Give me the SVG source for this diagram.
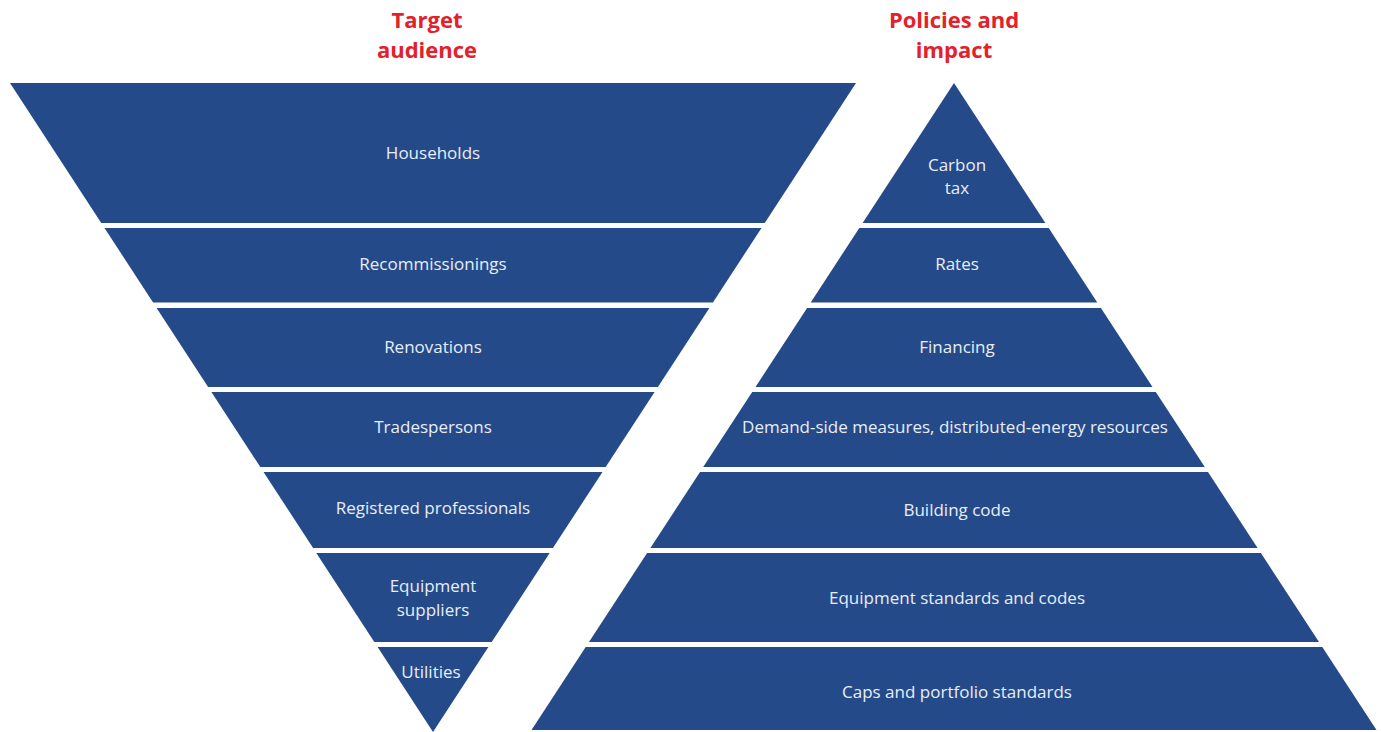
<svg xmlns="http://www.w3.org/2000/svg" width="1381" height="732" viewBox="0 0 1381 732">
<style>
.seg{fill:#244a89;}
.lbl{font-family:"Open Sans","Liberation Sans",sans-serif;font-size:17px;fill:#e8eef7;text-anchor:middle;}
.ttl{font-family:"Open Sans","Liberation Sans",sans-serif;font-size:22px;font-weight:bold;fill:#e3212b;text-anchor:middle;}
</style>
<rect width="1381" height="732" fill="#ffffff"/>
<g id="title-left"><text class="ttl" x="427" y="28">Target</text><text class="ttl" x="427" y="58">audience</text></g>
<g id="title-right"><text class="ttl" x="954" y="28">Policies and</text><text class="ttl" x="954" y="58">impact</text></g>
<g id="households"><polygon class="seg" points="10,83 856,83 764.75,223 101.25,223"/><text class="lbl" x="433" y="158.5">Households</text></g>
<g id="recommissionings"><polygon class="seg" points="104.5,228 761.5,228 712.9,302.5 153.1,302.5"/><text class="lbl" x="433" y="270">Recommissionings</text></g>
<g id="renovations"><polygon class="seg" points="156.6,308 709.4,308 657.9,387 208.1,387"/><text class="lbl" x="433" y="353">Renovations</text></g>
<g id="tradespersons"><polygon class="seg" points="211.4,392 654.6,392 605.7,467 260.3,467"/><text class="lbl" x="433" y="433">Tradespersons</text></g>
<g id="registered-professionals"><polygon class="seg" points="263.5,472 602.5,472 552.9,548 313.1,548"/><text class="lbl" x="433" y="514">Registered professionals</text></g>
<g id="equipment-suppliers"><polygon class="seg" points="316.3,553 549.7,553 491.7,642 374.3,642"/><text class="lbl" x="433" y="591.5">Equipment</text><text class="lbl" x="433" y="615.5">suppliers</text></g>
<g id="utilities"><polygon class="seg" points="377.6,647 488.4,647 433,732"/><text class="lbl" x="431" y="678">Utilities</text></g>
<g id="carbon-tax"><polygon class="seg" points="954,83 1045.4,223 862.6,223"/><text class="lbl" x="957" y="170.5">Carbon</text><text class="lbl" x="957" y="194">tax</text></g>
<g id="rates"><polygon class="seg" points="859.3,228 1048.7,228 1097.3,302.5 810.7,302.5"/><text class="lbl" x="957" y="270">Rates</text></g>
<g id="financing"><polygon class="seg" points="807.1,308 1100.9,308 1152.5,387 755.5,387"/><text class="lbl" x="957" y="353">Financing</text></g>
<g id="demand-side"><polygon class="seg" points="752.2,392 1155.8,392 1204.8,467 703.2,467"/><text class="lbl" x="955" y="432.5">Demand-side measures, distributed-energy resources</text></g>
<g id="building-code"><polygon class="seg" points="700,472 1208,472 1257.6,548 650.4,548"/><text class="lbl" x="957" y="516">Building code</text></g>
<g id="equipment-standards"><polygon class="seg" points="647.1,553 1260.9,553 1319,642 589,642"/><text class="lbl" x="957" y="604">Equipment standards and codes</text></g>
<g id="caps-portfolio"><polygon class="seg" points="585.7,647 1322.3,647 1376.5,730 531.5,730"/><text class="lbl" x="957" y="698">Caps and portfolio standards</text></g>
<g id="connectors"/>
</svg>
